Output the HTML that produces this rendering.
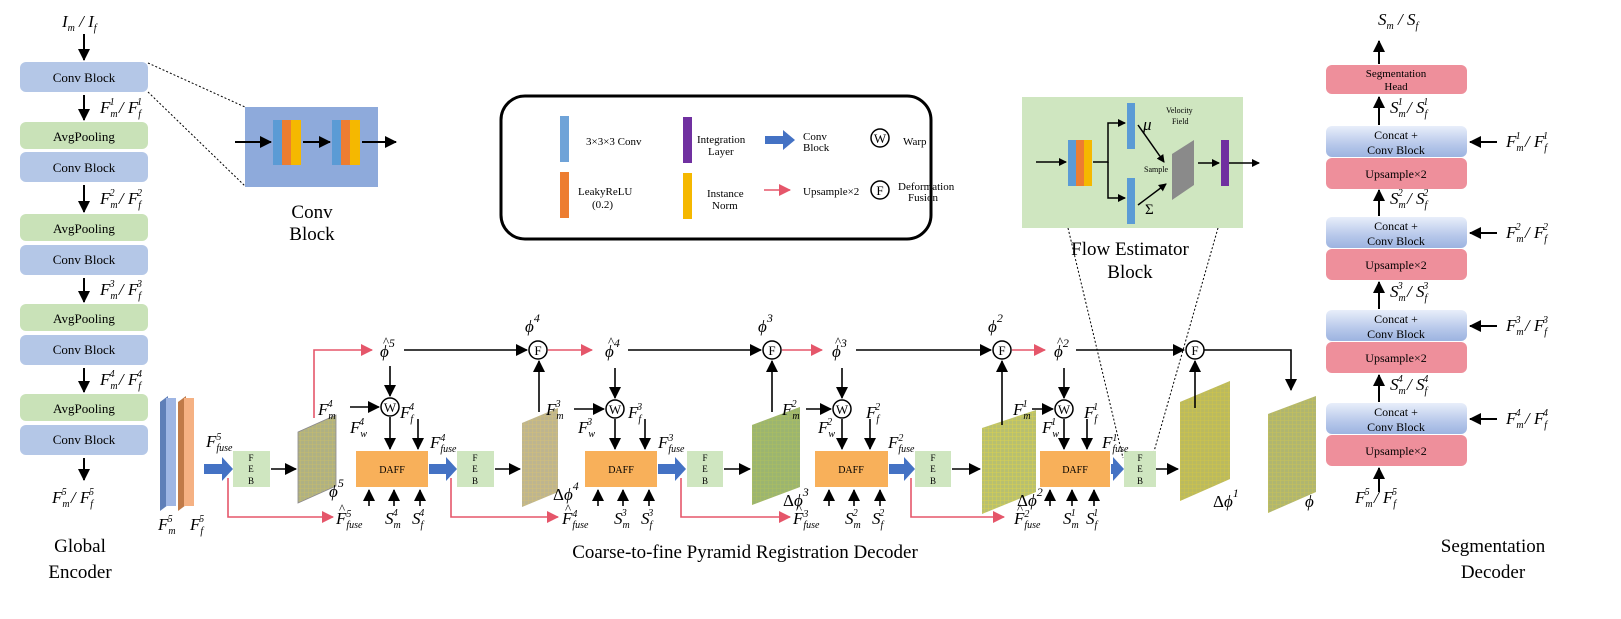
<!DOCTYPE html>
<html><head><meta charset="utf-8"><style>
html,body{margin:0;padding:0;background:#fff}
svg{display:block}
text{font-family:"Liberation Serif",serif;fill:#000}
.m{font-style:italic;font-size:17px}
.s{font-size:10px}
.b{font-size:11px}
.h{font-size:13px;font-style:normal}
</style></head><body>
<svg width="1621" height="619" viewBox="0 0 1621 619" xmlns="http://www.w3.org/2000/svg">
<defs>
<marker id="a" markerWidth="8" markerHeight="8" refX="7" refY="4" orient="auto" markerUnits="userSpaceOnUse"><path d="M0,0L8,4L0,8z" fill="#000"/></marker>
<marker id="ab" markerWidth="12" markerHeight="12" refX="11" refY="6" orient="auto" markerUnits="userSpaceOnUse"><path d="M0,0L12,6L0,12z" fill="#000"/></marker>
<marker id="r" markerWidth="12" markerHeight="12" refX="11" refY="6" orient="auto" markerUnits="userSpaceOnUse"><path d="M0,0L12,6L0,12z" fill="#e5566a"/></marker>
<pattern id="g" width="4" height="4" patternUnits="userSpaceOnUse"><rect width="4" height="4" fill="#b8c070"/><path d="M0,0H4M0,0V4" stroke="#d8d050" stroke-width="1"/></pattern>
<linearGradient id="cb" x1="0" y1="0" x2="0" y2="1"><stop offset="0" stop-color="#e8eefa"/><stop offset="0.6" stop-color="#b7c8ea"/><stop offset="1" stop-color="#9cb3e0"/></linearGradient>
</defs>

<!-- Global Encoder -->
<g stroke="none">
<rect x="20" y="62" width="128" height="30" rx="6" fill="#b4c7e7"/>
<rect x="20" y="122" width="128" height="27" rx="6" fill="#c9e2b8"/>
<rect x="20" y="152" width="128" height="30" rx="6" fill="#b4c7e7"/>
<rect x="20" y="214" width="128" height="27" rx="6" fill="#c9e2b8"/>
<rect x="20" y="245" width="128" height="30" rx="6" fill="#b4c7e7"/>
<rect x="20" y="304" width="128" height="27" rx="6" fill="#c9e2b8"/>
<rect x="20" y="335" width="128" height="30" rx="6" fill="#b4c7e7"/>
<rect x="20" y="394" width="128" height="27" rx="6" fill="#c9e2b8"/>
<rect x="20" y="425" width="128" height="30" rx="6" fill="#b4c7e7"/>
</g>
<g font-size="13" text-anchor="middle">
<text x="84" y="82">Conv Block</text>
<text x="84" y="141">AvgPooling</text>
<text x="84" y="172">Conv Block</text>
<text x="84" y="233">AvgPooling</text>
<text x="84" y="264">Conv Block</text>
<text x="84" y="323">AvgPooling</text>
<text x="84" y="354">Conv Block</text>
<text x="84" y="413">AvgPooling</text>
<text x="84" y="444">Conv Block</text>
</g>
<g stroke="#000" stroke-width="2" marker-end="url(#ab)">
<line x1="84" y1="34" x2="84" y2="60"/>
<line x1="84" y1="95" x2="84" y2="120"/>
<line x1="84" y1="185" x2="84" y2="212"/>
<line x1="84" y1="278" x2="84" y2="302"/>
<line x1="84" y1="368" x2="84" y2="392"/>
<line x1="84" y1="458" x2="84" y2="480"/>
</g>
<text class="m" x="62" y="27">I<tspan class="s" dy="4">m</tspan><tspan dy="-4"> / I</tspan><tspan class="s" dy="4">f</tspan></text>
<text class="m" x="100" y="113">F<tspan class="s" dy="4">m</tspan><tspan class="s" dx="-8" dy="-12">1</tspan><tspan dy="8"> / F</tspan><tspan class="s" dy="4">f</tspan><tspan class="s" dx="-4" dy="-12">1</tspan></text>
<text class="m" x="100" y="204">F<tspan class="s" dy="4">m</tspan><tspan class="s" dx="-8" dy="-12">2</tspan><tspan dy="8"> / F</tspan><tspan class="s" dy="4">f</tspan><tspan class="s" dx="-4" dy="-12">2</tspan></text>
<text class="m" x="100" y="295">F<tspan class="s" dy="4">m</tspan><tspan class="s" dx="-8" dy="-12">3</tspan><tspan dy="8"> / F</tspan><tspan class="s" dy="4">f</tspan><tspan class="s" dx="-4" dy="-12">3</tspan></text>
<text class="m" x="100" y="385">F<tspan class="s" dy="4">m</tspan><tspan class="s" dx="-8" dy="-12">4</tspan><tspan dy="8"> / F</tspan><tspan class="s" dy="4">f</tspan><tspan class="s" dx="-4" dy="-12">4</tspan></text>
<text class="m" x="52" y="503">F<tspan class="s" dy="4">m</tspan><tspan class="s" dx="-8" dy="-12">5</tspan><tspan dy="8"> / F</tspan><tspan class="s" dy="4">f</tspan><tspan class="s" dx="-4" dy="-12">5</tspan></text>
<text x="80" y="552" font-size="19" text-anchor="middle">Global</text>
<text x="80" y="578" font-size="19" text-anchor="middle">Encoder</text>

<!-- Conv block zoom -->
<line x1="148" y1="63" x2="245" y2="107" stroke="#000" stroke-dasharray="2,2"/>
<line x1="148" y1="92" x2="245" y2="186" stroke="#000" stroke-dasharray="2,2"/>
<rect x="245" y="107" width="133" height="80" fill="#8eaadb"/>
<rect x="273" y="120" width="9" height="45" fill="#5b9bd5"/><rect x="282" y="120" width="9" height="45" fill="#ed7d31"/><rect x="291" y="120" width="10" height="45" fill="#f5b800"/>
<rect x="332" y="120" width="9" height="45" fill="#5b9bd5"/><rect x="341" y="120" width="9" height="45" fill="#ed7d31"/><rect x="350" y="120" width="10" height="45" fill="#f5b800"/>
<g stroke="#000" stroke-width="2" marker-end="url(#ab)">
<line x1="235" y1="142" x2="271" y2="142"/><line x1="303" y1="142" x2="330" y2="142"/><line x1="362" y1="142" x2="396" y2="142"/>
</g>
<text x="312" y="218" font-size="19" text-anchor="middle">Conv</text>
<text x="312" y="240" font-size="19" text-anchor="middle">Block</text>

<!-- Legend -->
<rect x="501" y="96" width="430" height="143" rx="24" fill="#fff" stroke="#000" stroke-width="3"/>
<rect x="560" y="116" width="9" height="46" fill="#6fa3d8"/>
<rect x="560" y="172" width="9" height="46" fill="#ed7d31"/>
<rect x="683" y="117" width="9" height="46" fill="#7030a0"/>
<rect x="683" y="173" width="9" height="46" fill="#f5b800"/>
<g class="b" font-size="10">
<text x="586" y="145">3×3×3 Conv</text>
<text x="578" y="195">LeakyReLU</text><text x="592" y="208">(0.2)</text>
<text x="697" y="143">Integration</text><text x="708" y="155">Layer</text>
<text x="707" y="197">Instance</text><text x="712" y="209">Norm</text>
<text x="803" y="140">Conv</text><text x="803" y="151">Block</text>
<text x="803" y="195">Upsample×2</text>
<text x="903" y="145">Warp</text>
<text x="898" y="190">Deformation</text><text x="908" y="201">Fusion</text>
</g>
<path d="M765,136h18v-6l12,10l-12,10v-6h-18z" fill="#4472c4"/>
<line x1="764" y1="190" x2="790" y2="190" stroke="#e5566a" stroke-width="1.5" marker-end="url(#r)"/>
<circle cx="880" cy="138" r="9" fill="#fff" stroke="#000" stroke-width="1.5"/><text x="880" y="143" font-size="13" text-anchor="middle">W</text>
<circle cx="880" cy="190" r="9" fill="#fff" stroke="#000" stroke-width="1.5"/><text x="880" y="195" font-size="13" text-anchor="middle">F</text>

<!-- Flow estimator -->
<line x1="1068" y1="228" x2="1123" y2="458" stroke="#000" stroke-dasharray="2,2"/>
<line x1="1218" y1="228" x2="1153" y2="455" stroke="#000" stroke-dasharray="2,2"/>
<rect x="1022" y="97" width="221" height="131" fill="#cfe6c0"/>
<rect x="1068" y="140" width="8" height="46" fill="#5b9bd5"/><rect x="1076" y="140" width="8" height="46" fill="#ed7d31"/><rect x="1084" y="140" width="8" height="46" fill="#f5b800"/>
<rect x="1127" y="103" width="8" height="46" fill="#5b9bd5"/>
<rect x="1127" y="178" width="8" height="46" fill="#5b9bd5"/>
<rect x="1221" y="140" width="8" height="46" fill="#7030a0"/>
<path d="M1172,154l22,-14v45l-22,15z" fill="#8a8a8a"/>
<g stroke="#000" stroke-width="1.5" fill="none">
<line x1="1036" y1="162" x2="1066" y2="162" marker-end="url(#a)"/>
<polyline points="1093,162 1108,162 1108,123 1125,123" marker-end="url(#a)"/>
<polyline points="1108,162 1108,198 1125,198" marker-end="url(#a)"/>
<line x1="1138" y1="125" x2="1164" y2="162" marker-end="url(#a)"/>
<line x1="1138" y1="205" x2="1166" y2="184" marker-end="url(#a)"/>
<line x1="1198" y1="163" x2="1219" y2="163" marker-end="url(#a)"/>
<line x1="1229" y1="163" x2="1259" y2="163" marker-end="url(#a)"/>
</g>
<text class="m" x="1143" y="130" font-size="16">μ</text>
<text x="1145" y="214" font-size="15">Σ</text>
<text x="1166" y="113" font-size="8">Velocity</text><text x="1172" y="124" font-size="8">Field</text>
<text x="1144" y="172" font-size="8">Sample</text>
<text x="1130" y="255" font-size="19" text-anchor="middle">Flow Estimator</text>
<text x="1130" y="278" font-size="19" text-anchor="middle">Block</text>

<!-- Segmentation decoder -->
<rect x="1326" y="65" width="141" height="29" rx="6" fill="#ee8f9b"/>
<text x="1396" y="77" font-size="11" text-anchor="middle">Segmentation</text><text x="1396" y="90" font-size="11" text-anchor="middle">Head</text>
<g font-size="12" text-anchor="middle">
<rect x="1326" y="126" width="141" height="31" rx="6" fill="url(#cb)"/><rect x="1326" y="158" width="141" height="31" rx="6" fill="#ee8f9b"/>
<text x="1396" y="139">Concat +</text><text x="1396" y="154">Conv Block</text><text x="1396" y="178">Upsample×2</text>
<rect x="1326" y="217" width="141" height="31" rx="6" fill="url(#cb)"/><rect x="1326" y="249" width="141" height="31" rx="6" fill="#ee8f9b"/>
<text x="1396" y="230">Concat +</text><text x="1396" y="245">Conv Block</text><text x="1396" y="269">Upsample×2</text>
<rect x="1326" y="310" width="141" height="31" rx="6" fill="url(#cb)"/><rect x="1326" y="342" width="141" height="31" rx="6" fill="#ee8f9b"/>
<text x="1396" y="323">Concat +</text><text x="1396" y="338">Conv Block</text><text x="1396" y="362">Upsample×2</text>
<rect x="1326" y="403" width="141" height="31" rx="6" fill="url(#cb)"/><rect x="1326" y="435" width="141" height="31" rx="6" fill="#ee8f9b"/>
<text x="1396" y="416">Concat +</text><text x="1396" y="431">Conv Block</text><text x="1396" y="455">Upsample×2</text>
</g>
<g stroke="#000" stroke-width="2" marker-end="url(#ab)">
<line x1="1379" y1="64" x2="1379" y2="41"/>
<line x1="1379" y1="125" x2="1379" y2="97"/>
<line x1="1379" y1="216" x2="1379" y2="190"/>
<line x1="1379" y1="309" x2="1379" y2="282"/>
<line x1="1379" y1="402" x2="1379" y2="375"/>
<line x1="1379" y1="492" x2="1379" y2="468"/>
<line x1="1497" y1="142" x2="1470" y2="142"/>
<line x1="1497" y1="233" x2="1470" y2="233"/>
<line x1="1497" y1="326" x2="1470" y2="326"/>
<line x1="1497" y1="419" x2="1470" y2="419"/>
</g>
<text class="m" x="1378" y="25">S<tspan class="s" dy="4">m</tspan><tspan dy="-4"> / S</tspan><tspan class="s" dy="4">f</tspan></text>
<text class="m" x="1390" y="113">S<tspan class="s" dy="4">m</tspan><tspan class="s" dx="-8" dy="-12">1</tspan><tspan dy="8"> / S</tspan><tspan class="s" dy="4">f</tspan><tspan class="s" dx="-4" dy="-12">1</tspan></text>
<text class="m" x="1390" y="204">S<tspan class="s" dy="4">m</tspan><tspan class="s" dx="-8" dy="-12">2</tspan><tspan dy="8"> / S</tspan><tspan class="s" dy="4">f</tspan><tspan class="s" dx="-4" dy="-12">2</tspan></text>
<text class="m" x="1390" y="297">S<tspan class="s" dy="4">m</tspan><tspan class="s" dx="-8" dy="-12">3</tspan><tspan dy="8"> / S</tspan><tspan class="s" dy="4">f</tspan><tspan class="s" dx="-4" dy="-12">3</tspan></text>
<text class="m" x="1390" y="390">S<tspan class="s" dy="4">m</tspan><tspan class="s" dx="-8" dy="-12">4</tspan><tspan dy="8"> / S</tspan><tspan class="s" dy="4">f</tspan><tspan class="s" dx="-4" dy="-12">4</tspan></text>
<text class="m" x="1506" y="147">F<tspan class="s" dy="4">m</tspan><tspan class="s" dx="-8" dy="-12">1</tspan><tspan dy="8"> / F</tspan><tspan class="s" dy="4">f</tspan><tspan class="s" dx="-4" dy="-12">1</tspan></text>
<text class="m" x="1506" y="238">F<tspan class="s" dy="4">m</tspan><tspan class="s" dx="-8" dy="-12">2</tspan><tspan dy="8"> / F</tspan><tspan class="s" dy="4">f</tspan><tspan class="s" dx="-4" dy="-12">2</tspan></text>
<text class="m" x="1506" y="331">F<tspan class="s" dy="4">m</tspan><tspan class="s" dx="-8" dy="-12">3</tspan><tspan dy="8"> / F</tspan><tspan class="s" dy="4">f</tspan><tspan class="s" dx="-4" dy="-12">3</tspan></text>
<text class="m" x="1506" y="424">F<tspan class="s" dy="4">m</tspan><tspan class="s" dx="-8" dy="-12">4</tspan><tspan dy="8"> / F</tspan><tspan class="s" dy="4">f</tspan><tspan class="s" dx="-4" dy="-12">4</tspan></text>
<text class="m" x="1355" y="503">F<tspan class="s" dy="4">m</tspan><tspan class="s" dx="-8" dy="-12">5</tspan><tspan dy="8"> / F</tspan><tspan class="s" dy="4">f</tspan><tspan class="s" dx="-4" dy="-12">5</tspan></text>
<text x="1493" y="552" font-size="19" text-anchor="middle">Segmentation</text>
<text x="1493" y="578" font-size="19" text-anchor="middle">Decoder</text>

<!-- Decoder: input slabs -->
<path d="M160,402l8,-6v109l-8,6z" fill="#5f7fb8"/><rect x="166" y="398" width="10" height="108" fill="#9fb6e4"/>
<path d="M178,402l8,-6v109l-8,6z" fill="#c07a48"/><rect x="184" y="398" width="10" height="108" fill="#f5b183"/>
<text class="m" x="158" y="530">F<tspan class="s" dy="4">m</tspan><tspan class="s" dx="-8" dy="-12">5</tspan></text>
<text class="m" x="190" y="530">F<tspan class="s" dy="4">f</tspan><tspan class="s" dx="-4" dy="-12">5</tspan></text>
<text class="m" x="206" y="447">F<tspan class="s" dy="-7">5</tspan><tspan class="s" dx="-5" dy="11">fuse</tspan></text>

<!-- FEB boxes -->
<g fill="#cfe6c0">
<rect x="233" y="451" width="37" height="36"/><rect x="457" y="451" width="37" height="36"/>
<rect x="687" y="451" width="36" height="36"/><rect x="915" y="451" width="36" height="36"/>
<rect x="1124" y="451" width="32" height="36"/>
</g>
<g font-size="9" text-anchor="middle">
<text x="251" y="461">F</text><text x="251" y="472">E</text><text x="251" y="484">B</text>
<text x="475" y="461">F</text><text x="475" y="472">E</text><text x="475" y="484">B</text>
<text x="705" y="461">F</text><text x="705" y="472">E</text><text x="705" y="484">B</text>
<text x="933" y="461">F</text><text x="933" y="472">E</text><text x="933" y="484">B</text>
<text x="1140" y="461">F</text><text x="1140" y="472">E</text><text x="1140" y="484">B</text>
</g>
<!-- DAFF -->
<g fill="#f8b05a">
<rect x="356" y="451" width="72" height="36"/><rect x="585" y="451" width="72" height="36"/>
<rect x="815" y="451" width="73" height="36"/><rect x="1040" y="451" width="70" height="36"/>
</g>
<g font-size="10" text-anchor="middle">
<text x="392" y="473">DAFF</text><text x="621" y="473">DAFF</text><text x="851" y="473">DAFF</text><text x="1075" y="473">DAFF</text>
</g>
<!-- blue arrows -->
<g fill="#4472c4">
<path d="M204,464h18v-7l11,12l-11,12v-7h-18z"/>
<path d="M429,464h17v-7l11,12l-11,12v-7h-17z"/>
<path d="M658,464h17v-7l11,12l-11,12v-7h-17z"/>
<path d="M889,464h15v-7l11,12l-11,12v-7h-15z"/>
<path d="M1111,464h2v-7l11,12l-11,12v-7h-2z"/>
</g>

<!-- flow images -->
<path d="M298,432l38,-17v71l-38,17z" fill="url(#g)" stroke="#888" stroke-width="0.8"/><path d="M298,432l38,-17v71l-38,17z" fill="#9a90b0" opacity="0.3"/>
<path d="M522,423l36,-15v84l-36,15z" fill="url(#g)"/><path d="M522,423l36,-15v84l-36,15z" fill="#c9a0c8" opacity="0.35"/>
<path d="M752,425l48,-18v80l-48,18z" fill="url(#g)"/><path d="M752,425l48,-18v80l-48,18z" fill="#7aa870" opacity="0.45"/>
<path d="M982,428l54,-18v82l-54,22z" fill="url(#g)"/>
<path d="M1180,402l50,-21v98l-50,22z" fill="url(#g)"/><path d="M1180,402l50,-21v98l-50,22z" fill="#c0b040" opacity="0.35"/>
<path d="M1268,414l48,-18v96l-48,21z" fill="url(#g)"/><path d="M1268,414l48,-18v96l-48,21z" fill="#a0a070" opacity="0.3"/>

<!-- image labels -->
<text class="m" x="329" y="497" font-size="20">ϕ<tspan dy="-10" font-size="12">5</tspan></text>
<text class="m" x="553" y="500" font-size="20"><tspan font-style="normal">Δ</tspan>ϕ<tspan dy="-10" font-size="12">4</tspan></text>
<text class="m" x="783" y="506" font-size="20"><tspan font-style="normal">Δ</tspan>ϕ<tspan dy="-10" font-size="12">3</tspan></text>
<text class="m" x="1017" y="506" font-size="20"><tspan font-style="normal">Δ</tspan>ϕ<tspan dy="-10" font-size="12">2</tspan></text>
<text class="m" x="1213" y="507" font-size="20"><tspan font-style="normal">Δ</tspan>ϕ<tspan dy="-10" font-size="12">1</tspan></text>
<text class="m" x="1305" y="507" font-size="20">ϕ</text>

<!-- top row labels -->
<g class="m" font-size="20">
<text x="380" y="357">ϕ<tspan dy="-10" font-size="12">5</tspan></text>
<text x="605" y="357">ϕ<tspan dy="-10" font-size="12">4</tspan></text>
<text x="832" y="357">ϕ<tspan dy="-10" font-size="12">3</tspan></text>
<text x="1054" y="357">ϕ<tspan dy="-10" font-size="12">2</tspan></text>
<text x="525" y="332">ϕ<tspan dy="-10" font-size="12">4</tspan></text>
<text x="758" y="332">ϕ<tspan dy="-10" font-size="12">3</tspan></text>
<text x="988" y="332">ϕ<tspan dy="-10" font-size="12">2</tspan></text>
</g>
<g class="h">
<text x="383" y="346">^</text><text x="608" y="346">^</text><text x="835" y="346">^</text><text x="1057" y="346">^</text>
<text x="339" y="513">^</text><text x="565" y="513">^</text><text x="796" y="513">^</text><text x="1017" y="513">^</text>
</g>
<!-- F circles -->
<g fill="#fff" stroke="#000" stroke-width="1.5">
<circle cx="538" cy="350" r="9"/><circle cx="772" cy="350" r="9"/><circle cx="1002" cy="350" r="9"/><circle cx="1195" cy="350" r="9"/>
<circle cx="390" cy="407" r="9"/><circle cx="615" cy="409" r="9"/><circle cx="842" cy="409" r="9"/><circle cx="1064" cy="409" r="9"/>
</g>
<g font-size="13" text-anchor="middle">
<text x="538" y="355">F</text><text x="772" y="355">F</text><text x="1002" y="355">F</text><text x="1195" y="355">F</text>
<text x="390" y="412">W</text><text x="615" y="414">W</text><text x="842" y="414">W</text><text x="1064" y="414">W</text>
</g>

<!-- black connectors -->
<g stroke="#000" stroke-width="1.6" fill="none" marker-end="url(#ab)">
<line x1="404" y1="350" x2="527" y2="350"/>
<line x1="628" y1="350" x2="761" y2="350"/>
<line x1="856" y1="350" x2="991" y2="350"/>
<line x1="1076" y1="350" x2="1184" y2="350"/>
<polyline points="1204,350 1291,350 1291,390"/>
<line x1="390" y1="366" x2="390" y2="396"/>
<line x1="615" y1="368" x2="615" y2="398"/>
<line x1="842" y1="368" x2="842" y2="398"/>
<line x1="1064" y1="368" x2="1064" y2="398"/>
<line x1="390" y1="417" x2="390" y2="449"/>
<line x1="615" y1="419" x2="615" y2="449"/>
<line x1="842" y1="419" x2="842" y2="449"/>
<line x1="1064" y1="419" x2="1064" y2="449"/>
<line x1="418" y1="419" x2="418" y2="449"/>
<line x1="645" y1="419" x2="645" y2="449"/>
<line x1="870" y1="419" x2="870" y2="449"/>
<line x1="1087" y1="419" x2="1087" y2="449"/>
<line x1="350" y1="407" x2="379" y2="407"/>
<line x1="574" y1="409" x2="604" y2="409"/>
<line x1="806" y1="409" x2="831" y2="409"/>
<line x1="1032" y1="409" x2="1053" y2="409"/>
<line x1="271" y1="469" x2="296" y2="469"/>
<line x1="495" y1="469" x2="520" y2="469"/>
<line x1="724" y1="469" x2="750" y2="469"/>
<line x1="952" y1="469" x2="980" y2="469"/>
<line x1="1156" y1="469" x2="1178" y2="469"/>
<line x1="539" y1="412" x2="539" y2="361"/>
<line x1="772" y1="412" x2="772" y2="361"/>
<line x1="1002" y1="425" x2="1002" y2="361"/>
<line x1="1195" y1="408" x2="1195" y2="361"/>
<line x1="369" y1="506" x2="369" y2="490"/><line x1="394" y1="506" x2="394" y2="490"/><line x1="420" y1="506" x2="420" y2="490"/>
<line x1="598" y1="506" x2="598" y2="490"/><line x1="623" y1="506" x2="623" y2="490"/><line x1="649" y1="506" x2="649" y2="490"/>
<line x1="829" y1="506" x2="829" y2="490"/><line x1="854" y1="506" x2="854" y2="490"/><line x1="880" y1="506" x2="880" y2="490"/>
<line x1="1050" y1="506" x2="1050" y2="490"/><line x1="1072" y1="506" x2="1072" y2="490"/><line x1="1094" y1="506" x2="1094" y2="490"/>
</g>
<!-- red connectors -->
<g stroke="#e5566a" stroke-width="1.6" fill="none" marker-end="url(#r)">
<polyline points="314,418 314,350 372,350"/>
<line x1="548" y1="350" x2="592" y2="350"/>
<line x1="782" y1="350" x2="822" y2="350"/>
<line x1="1012" y1="350" x2="1045" y2="350"/>
<polyline points="228,478 228,517 333,517"/>
<polyline points="451,478 451,517 558,517"/>
<polyline points="681,478 681,517 790,517"/>
<polyline points="911,478 911,517 1004,517"/>
</g>

<!-- side labels per stage -->
<g class="m">
<text x="318" y="415">F<tspan class="s" dy="4">m</tspan><tspan class="s" dx="-8" dy="-12">4</tspan></text>
<text x="400" y="418">F<tspan class="s" dy="4">f</tspan><tspan class="s" dx="-4" dy="-12">4</tspan></text>
<text x="350" y="433">F<tspan class="s" dy="4">w</tspan><tspan class="s" dx="-8" dy="-12">4</tspan></text>
<text x="430" y="448">F<tspan class="s" dy="-7">4</tspan><tspan class="s" dx="-5" dy="11">fuse</tspan></text>
<text x="546" y="415">F<tspan class="s" dy="4">m</tspan><tspan class="s" dx="-8" dy="-12">3</tspan></text>
<text x="628" y="418">F<tspan class="s" dy="4">f</tspan><tspan class="s" dx="-4" dy="-12">3</tspan></text>
<text x="578" y="433">F<tspan class="s" dy="4">w</tspan><tspan class="s" dx="-8" dy="-12">3</tspan></text>
<text x="658" y="448">F<tspan class="s" dy="-7">3</tspan><tspan class="s" dx="-5" dy="11">fuse</tspan></text>
<text x="782" y="415">F<tspan class="s" dy="4">m</tspan><tspan class="s" dx="-8" dy="-12">2</tspan></text>
<text x="866" y="418">F<tspan class="s" dy="4">f</tspan><tspan class="s" dx="-4" dy="-12">2</tspan></text>
<text x="818" y="433">F<tspan class="s" dy="4">w</tspan><tspan class="s" dx="-8" dy="-12">2</tspan></text>
<text x="888" y="448">F<tspan class="s" dy="-7">2</tspan><tspan class="s" dx="-5" dy="11">fuse</tspan></text>
<text x="1013" y="415">F<tspan class="s" dy="4">m</tspan><tspan class="s" dx="-8" dy="-12">1</tspan></text>
<text x="1084" y="418">F<tspan class="s" dy="4">f</tspan><tspan class="s" dx="-4" dy="-12">1</tspan></text>
<text x="1042" y="433">F<tspan class="s" dy="4">w</tspan><tspan class="s" dx="-8" dy="-12">1</tspan></text>
<text x="1102" y="448">F<tspan class="s" dy="-7">1</tspan><tspan class="s" dx="-5" dy="11">fuse</tspan></text>
</g>
<!-- bottom labels -->
<g class="m">
<text x="336" y="524">F<tspan class="s" dy="-7">5</tspan><tspan class="s" dx="-5" dy="11">fuse</tspan></text>
<text x="385" y="524">S<tspan class="s" dy="4">m</tspan><tspan class="s" dx="-8" dy="-12">4</tspan></text>
<text x="412" y="524">S<tspan class="s" dy="4">f</tspan><tspan class="s" dx="-4" dy="-12">4</tspan></text>
<text x="562" y="524">F<tspan class="s" dy="-7">4</tspan><tspan class="s" dx="-5" dy="11">fuse</tspan></text>
<text x="614" y="524">S<tspan class="s" dy="4">m</tspan><tspan class="s" dx="-8" dy="-12">3</tspan></text>
<text x="641" y="524">S<tspan class="s" dy="4">f</tspan><tspan class="s" dx="-4" dy="-12">3</tspan></text>
<text x="793" y="524">F<tspan class="s" dy="-7">3</tspan><tspan class="s" dx="-5" dy="11">fuse</tspan></text>
<text x="845" y="524">S<tspan class="s" dy="4">m</tspan><tspan class="s" dx="-8" dy="-12">2</tspan></text>
<text x="872" y="524">S<tspan class="s" dy="4">f</tspan><tspan class="s" dx="-4" dy="-12">2</tspan></text>
<text x="1014" y="524">F<tspan class="s" dy="-7">2</tspan><tspan class="s" dx="-5" dy="11">fuse</tspan></text>
<text x="1063" y="524">S<tspan class="s" dy="4">m</tspan><tspan class="s" dx="-8" dy="-12">1</tspan></text>
<text x="1086" y="524">S<tspan class="s" dy="4">f</tspan><tspan class="s" dx="-4" dy="-12">1</tspan></text>
</g>

<text x="745" y="558" font-size="19" text-anchor="middle">Coarse-to-fine Pyramid Registration Decoder</text>
</svg>
</body></html>
